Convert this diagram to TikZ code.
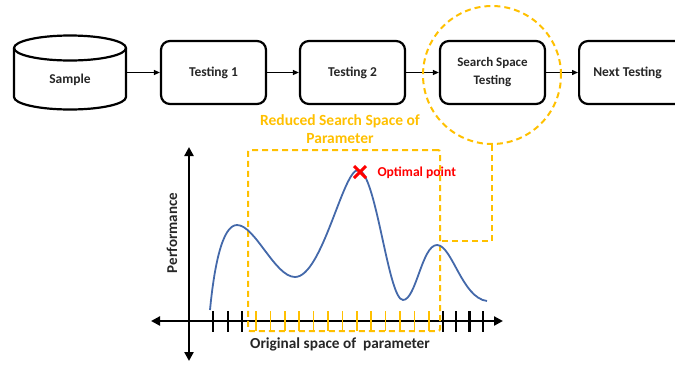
\documentclass[tikz,border=0pt]{standalone}
\usepackage{fontspec}
\setmainfont{Carlito}
\usetikzlibrary{arrows.meta,calc}

\definecolor{gold}{RGB}{255,192,0}
\definecolor{curveblue}{RGB}{68,105,170}
\definecolor{ink}{RGB}{38,38,38}

\tikzset{
  stepbox/.style={draw, line width=2.2pt, rounded corners=9pt, minimum width=105pt,
    minimum height=63pt, align=center, text=ink, font=\bfseries\fontsize{13.5}{16}\selectfont},
  flow/.style={line width=1.3pt, -{Triangle[length=6pt,width=5pt]}},
  golddash/.style={gold, line width=2pt, dash pattern=on 6pt off 4pt},
  axis/.style={line width=2.6pt, {Triangle[length=9pt,width=9pt]}-{Triangle[length=9pt,width=9pt]}},
  tickb/.style={line width=2.2pt},
  ticky/.style={gold, line width=1.6pt},
}

\begin{document}
\begin{tikzpicture}[x=1pt, y=-1pt]
\clip (0,0) rectangle (675,365);
\useasboundingbox (0,0) rectangle (675,365);

% database cylinder
\draw[line width=2.2pt] (14,48) -- (14,97)
  arc[start angle=180, end angle=0, x radius=56, y radius=12.5] -- (126,48);
\draw[line width=2.2pt] (70,48) ellipse[x radius=56, y radius=12.5];
\node[font=\bfseries\fontsize{13.5}{16}\selectfont, text=ink,
      minimum width=112pt, minimum height=60pt] (sample) at (70,80) {Sample};

% process steps
\node[stepbox] (t1) at (213.5,72.5) {Testing 1};
\node[stepbox] (t2) at (352.5,72.5) {Testing 2};
\node[stepbox, font=\bfseries\fontsize{13}{18}\selectfont] (sst) at (492.5,72.5) {Search Space\\Testing};
\node[stepbox, anchor=west] (next) at (578,72.5) {\hspace*{-8pt}Next Testing};

\draw[flow] (sample.east |- t1.west) -- (t1.west);
\draw[flow] (t1) -- (t2);
\draw[flow] (t2) -- (sst);
\draw[flow] (sst) -- (next);

% highlight of the search space step
\node[draw=gold, line width=2pt, dash pattern=on 6pt off 4pt, circle,
      minimum size=138pt, inner sep=0pt] (ring) at (492,75) {};
\coordinate (bend) at (492,241);
\coordinate (boxjoin) at (439,241);
\draw[golddash] (ring.south) -- (bend) -- (boxjoin);

% axes
\coordinate (yt) at (189,147);
\coordinate (yb) at (189,361);
\coordinate (xl) at (151,321);
\coordinate (xr) at (503,321);
\draw[axis] (yb) -- (yt);
\draw[axis] (xl) -- (xr);

% ticks
\foreach \x in {213,228,242,443,456,469.5,483}
  \draw[tickb] (\x,311) -- (\x,332);
\foreach \x in {256,270.4,284.8,299.2,313.6,328,342.4,356.8,371.2,385.6,400,414.4,428.8}
  \draw[ticky] (\x,311) -- (\x,331);

% reduced range box
\node[draw=gold, line width=2pt, dash pattern=on 6pt off 4pt, rounded corners=2pt,
      minimum width=192pt, minimum height=181pt, inner sep=0pt] (range) at (344,240.5) {};
\node[text=gold, font=\bfseries\fontsize{15.5}{18}\selectfont, align=center] (rangelbl)
  at (340,129) {Reduced Search Space of\\Parameter};

% performance curve
\draw[curveblue, line width=1.8pt]
  (210,310) .. controls (214,268) and (222,225) .. (237,225)
  .. controls (255,225) and (275,277) .. (295,277)
  .. controls (322,277) and (343,170) .. (358,170)
  .. controls (376,170) and (388,300) .. (403,300)
  .. controls (416,300) and (422,245) .. (437,245)
  .. controls (452,245) and (462,298) .. (487,301);

% optimum marker
\coordinate (opt) at (360,172);
\draw[red, line width=3pt] ($(opt)+(-6,-6)$) -- ($(opt)+(6,6)$)
  ($(opt)+(-6,6)$) -- ($(opt)+(6,-6)$);
\node[text=red, font=\bfseries\fontsize{13.6}{16}\selectfont, anchor=west] (optlbl)
  at (374,172.5) {Optimal point};

% axis labels
\node[text=ink, font=\bfseries\fontsize{15.3}{18}\selectfont] (xlbl) at (340,344) {Original space of\ \ parameter};
\node[text=ink, font=\bfseries\fontsize{15}{18}\selectfont, rotate=90] (ylbl) at (172,233) {Performance};
\end{tikzpicture}
\end{document}
